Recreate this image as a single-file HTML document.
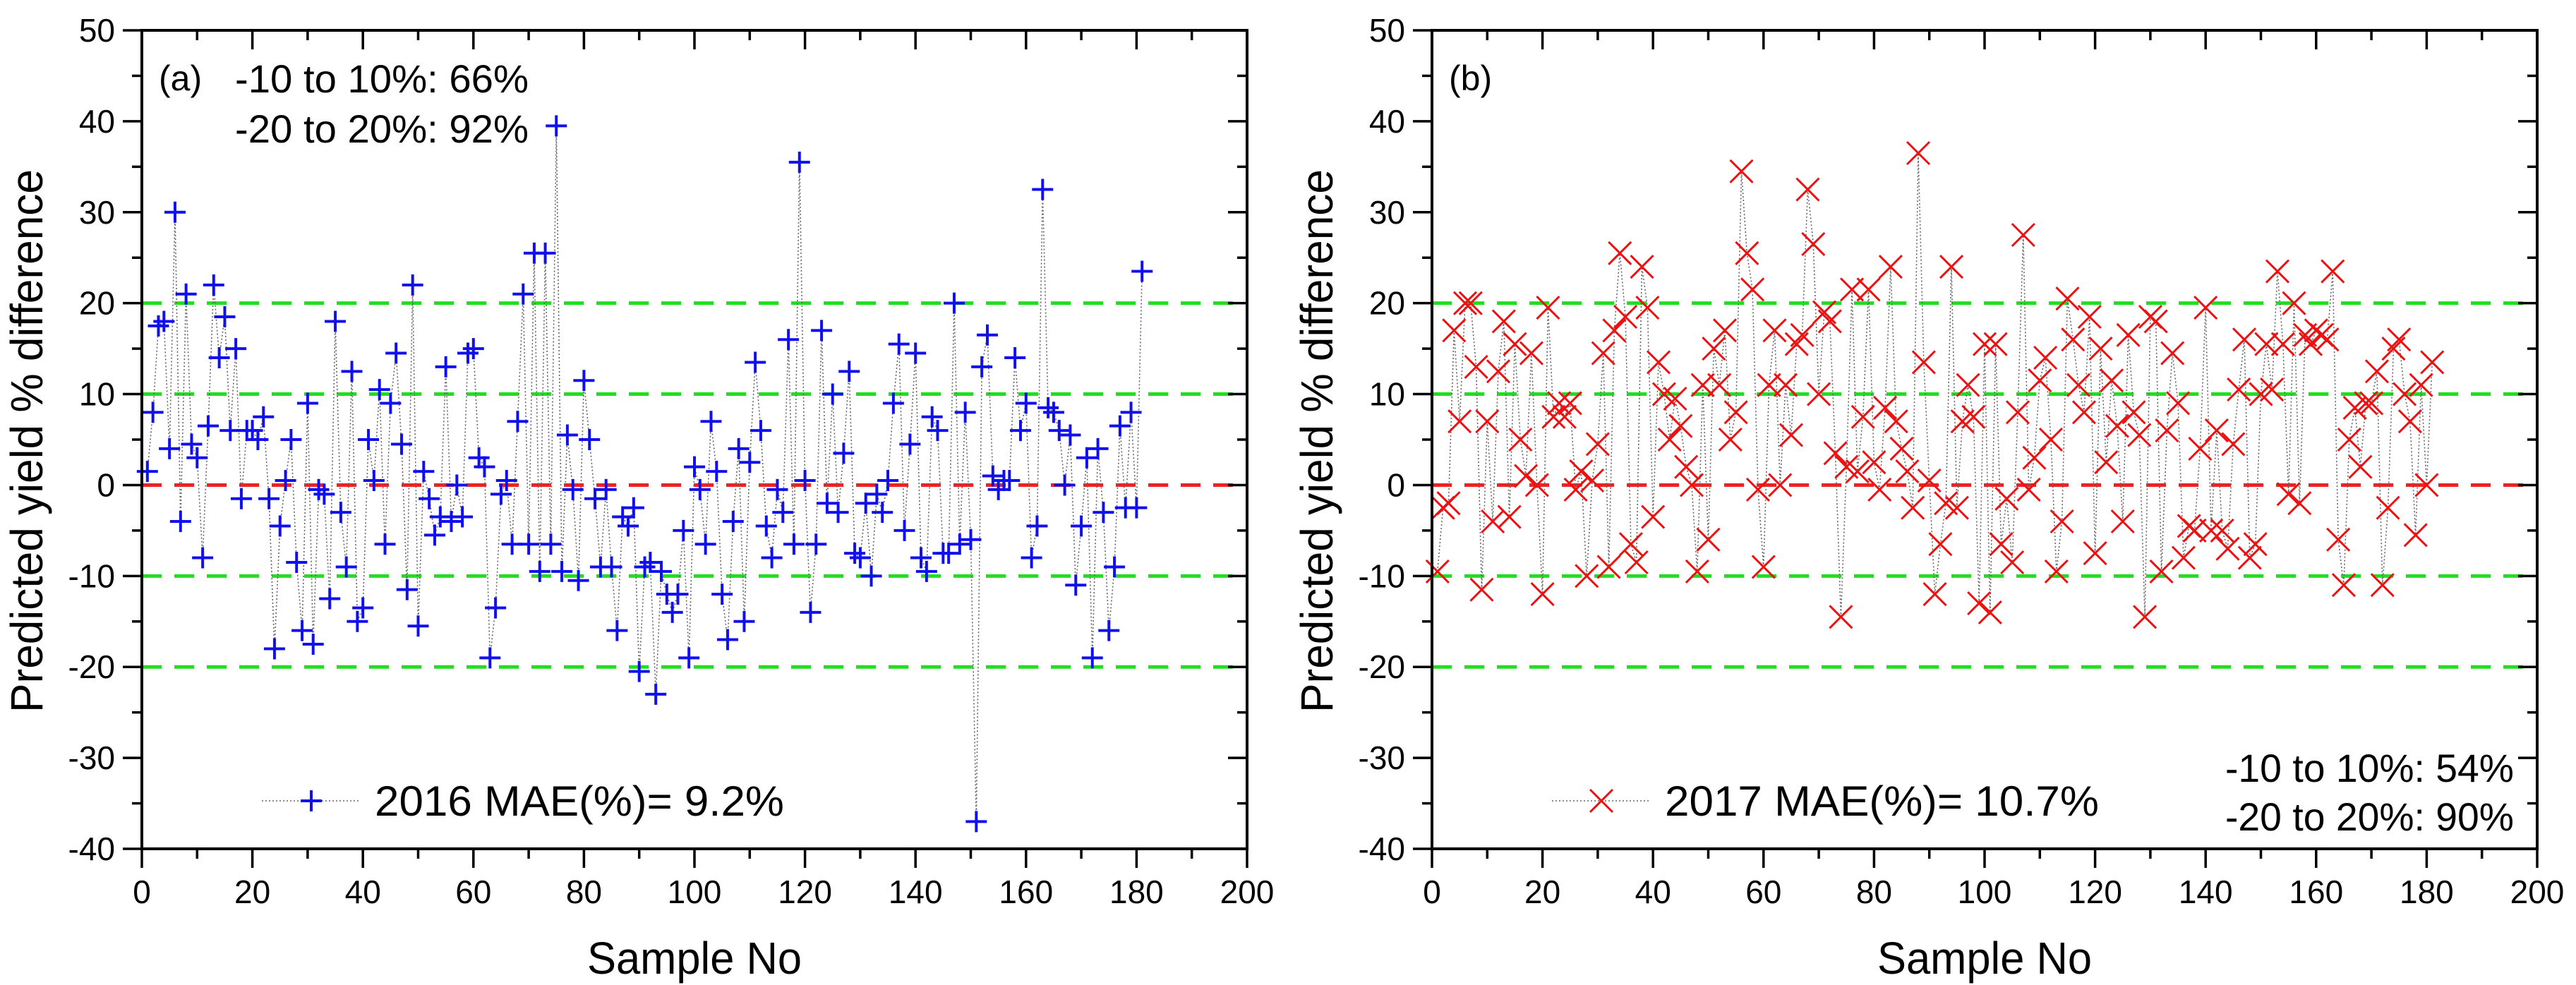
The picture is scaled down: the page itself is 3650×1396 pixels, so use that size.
<!DOCTYPE html>
<html><head><meta charset="utf-8"><style>
html,body{margin:0;padding:0;background:#fff;}
svg{display:block;font-family:"Liberation Sans",Arial,sans-serif;}
</style></head><body>
<svg id="chart" width="3650" height="1396" viewBox="0 0 3650 1396" xmlns="http://www.w3.org/2000/svg">
<rect width="3650" height="1396" fill="#fff"/>
</svg>
<script>
const xTicks = [0,20,40,60,80,100,120,140,160,180,200];
const yTicks = [50,40,30,20,10,0,-10,-20,-30,-40];
const refGreen = [20,10,-10,-20];
const refRed = [0];
const values2016 = [1.5,8,17.5,18,4,30,-4,21,4.5,3,-8,6.5,22,14,18.5,6,15,-1.5,6,6,5,7.5,-1.5,-18,-4.5,0.5,5,-8.5,-16,9,-17.5,-0.5,-1,-12.5,18,-3,-9,12.5,-15,-13.5,5,0.5,10.5,-6.5,9,14.5,4.5,-11.5,22,-15.5,1.5,-1.5,-5.5,-3.5,13,-4,0,-3.5,14.5,15,3,2,-19,-13.5,-1,0.5,-6.5,7,21,-6.5,25.5,-9.5,25.5,-6.5,39.5,-9.5,5.5,-0.5,-10.5,11.5,5,-1.5,-9,-0.5,-9,-16,-3.5,-4.5,-2.5,-20.5,-9,-8.5,-23,-9.5,-12,-14,-12,-5,-19,2,-0.5,-6.5,7,1.5,-12,-17,-4,4,-15,2.5,13.5,6,-4.5,-8,-0.5,-3,16,-6.5,35.5,0.5,-14,-6.5,17,-2,10,-3,3.5,12.5,-7.5,-8,-2,-10,-1,-3,0.5,9,15.5,-5,4.5,14.5,-8,-9.5,7.5,6,-7.5,-7.5,20,-6.5,8,-6,-37,13,16.5,1,-0.5,0.5,0.5,14,6,9,-8,-4.5,32.5,8.5,8,6,0,5.5,-11,-4.5,3,-19,4,-3,-16,-9,6.5,-2.5,8,-2.5,23.5];
const values2017 = [-9.5,-2.5,-2,17,7,20,20,13,-11.5,7,-4,12.5,18,-3.5,15.5,5,1,14.5,0,-12,19.5,7.5,9,7.5,9,-0.5,1.5,-10,0.5,4.5,14.5,-9,17,25.5,18.5,-6.5,-8.5,24,19.5,-3.5,13.5,10,5,9.5,6.5,2,0,-9.5,11,-6,15,11,17,5,8,34.5,25.5,21.5,-0.5,-9,11,17,0,11,5.5,15.5,16.5,32.5,26.5,10,19,18,3.5,-14.5,2,21.5,1.5,7.5,21.5,2.5,-0.5,8.5,24,7,4,1.5,-2.5,36.5,13.5,0.5,-12,-6.5,-2,24,-2.5,7,11,7.5,-13,15.5,-14,15.5,-6.5,-1.5,-8.5,8,27.5,-0.5,3,11.5,14,5,-9.5,-4,20.5,16,11,8,18.5,-7.5,15,2.5,11.5,6.5,-4,16.5,8,5.5,-14.5,18.5,18,-9.5,6,14.5,9,-8,-4.5,-5,4,19.5,-5,6,-5,-7,4.5,10.5,16,-8,-6.5,10,15.5,10.5,23.5,15.5,-1,20,-2,16.5,15.5,17,16.5,16,23.5,-6,-11,5,8.5,2,9,9,12.5,-11,-2.5,15,16,10,7,-5.5,11,0,13.5];

const NS="http://www.w3.org/2000/svg";
const svg=document.getElementById('chart');
function mk(tag,attrs,parent){const e=document.createElementNS(NS,tag);for(const k in attrs)e.setAttribute(k,attrs[k]);(parent||svg).appendChild(e);return e;}

function panel(cfg){
  const g=mk('g',{});
  
  
  const L=cfg.left,R=cfg.right,T=43,B=1203;
  const xs=v=>L+(v-0)/200*(R-L);
  const ys=v=>T+(50-v)/90*(B-T);
  // reference lines
  refGreen.forEach(v=>{
    const l=mk('line',{x1:L,x2:R,y1:ys(v),y2:ys(v),stroke:'#22dd22','stroke-width':5,'stroke-dasharray':'28 18'},g);
    
    
  });
  refRed.forEach(v=>{
    const l=mk('line',{x1:L,x2:R,y1:ys(v),y2:ys(v),stroke:'#ee2222','stroke-width':5,'stroke-dasharray':'28 18'},g);
    
    
  });
  // connecting dotted line
  const vals=cfg.values;
  let d='';
  vals.forEach((v,i)=>{d+=(i?'L':'M')+xs(i+1).toFixed(1)+' '+ys(v).toFixed(1);});
  const pl=mk('path',{d:d,fill:'none',stroke:'#666','stroke-width':1.6,'stroke-dasharray':'2 3'},g);
  
  
  // markers
  vals.forEach((v,i)=>{
    const cx=xs(i+1),cy=ys(v);
    const m=mk('path',{fill:'none',stroke:cfg.color,'stroke-width':cfg.plus?4:3},g);
    if(cfg.plus){m.setAttribute('d',`M${cx-15} ${cy}H${cx+15}M${cx} ${cy-15}V${cy+15}`);}
    else{m.setAttribute('d',`M${cx-16} ${cy-16}L${cx+16} ${cy+16}M${cx-16} ${cy+16}L${cx+16} ${cy-16}`);}
    
    
  });
  // frame
  const fr=mk('rect',{x:L,y:T,width:R-L,height:B-T,fill:'none',stroke:'#000','stroke-width':4},g);
  
  
  // x ticks
  for(let v=0;v<=200;v+=10){
    const len=(v%20===0)?27:14,x=xs(v);
    mk('line',{x1:x,x2:x,y1:B,y2:B+len,stroke:'#000','stroke-width':3.5},g);
    mk('line',{x1:x,x2:x,y1:T,y2:T+len,stroke:'#000','stroke-width':3.5},g);
  }
  xTicks.forEach(v=>{
    const t=mk('text',{x:xs(v),y:1280,'font-size':46,'text-anchor':'middle'},g);
    t.textContent=v;
    
    
  });
  for(let v=-40;v<=50;v+=5){
    const len=(v%10===0)?27:14,y=ys(v);
    mk('line',{x1:L-len,x2:L,y1:y,y2:y,stroke:'#000','stroke-width':3.5},g);
    mk('line',{x1:R-len,x2:R,y1:y,y2:y,stroke:'#000','stroke-width':3.5},g);
  }
  yTicks.forEach(v=>{
    const t=mk('text',{x:L-38,y:ys(v)+16,'font-size':46,'text-anchor':'end'},g);
    t.textContent=v;
    
    
  });
  // titles
  const yt=mk('text',{x:0,y:0,'font-size':64,'text-anchor':'middle',transform:`translate(${L-141},${(T+B)/2+2}) rotate(-90)`,textLength:770,lengthAdjust:'spacingAndGlyphs'},g);
  yt.textContent='Predicted yield % difference';
  
  
  const xt=mk('text',{x:(L+R)/2,y:1380,'font-size':64,'text-anchor':'middle',textLength:304,lengthAdjust:'spacingAndGlyphs'},g);
  xt.textContent='Sample No';
  
  
  // panel letter
  const pt=mk('text',{x:L+24,y:128,'font-size':50},g);
  pt.textContent=cfg.letter;
  
  
  // annotations
  cfg.notes.forEach(n=>{
    const t=mk('text',{x:n.x,y:n.y,'font-size':56,textLength:n.w,lengthAdjust:'spacingAndGlyphs'},g);
    t.textContent=n.t;
    
    
  });
  // legend
  const lg=mk('g',{},g);
  
  
  const lx=L+170;
  mk('line',{x1:lx,x2:lx+140,y1:1135,y2:1135,stroke:'#666','stroke-width':1.6,'stroke-dasharray':'2 3'},lg);
  const mx=lx+70;
  if(cfg.plus) mk('path',{d:`M${mx-15} 1135H${mx+15}M${mx} 1120V1150`,stroke:cfg.color,'stroke-width':4},lg);
  else mk('path',{d:`M${mx-16} 1119L${mx+16} 1151M${mx-16} 1151L${mx+16} 1119`,stroke:cfg.color,'stroke-width':3},lg);
  const lt=mk('text',{x:lx+160,y:1156,'font-size':60,textLength:cfg.legW,lengthAdjust:'spacingAndGlyphs'},lg);
  lt.textContent=cfg.legend;
}
panel({name:'panel-a-2016',left:201,right:1767,values:values2016,color:'#1010ee',plus:true,letter:'(a)',
  legend:'2016 MAE(%)= 9.2%',legW:580,
  notes:[{t:'-10 to 10%: 66%',x:333,y:131,w:416},{t:'-20 to 20%: 92%',x:333,y:202,w:416}]});
panel({name:'panel-b-2017',left:2029,right:3595,values:values2017,color:'#ee1111',plus:false,letter:'(b)',
  legend:'2017 MAE(%)= 10.7%',legW:615,
  notes:[{t:'-10 to 10%: 54%',x:3153,y:1108,w:409},{t:'-20 to 20%: 90%',x:3153,y:1177,w:409}]});
</script>
</body></html>
